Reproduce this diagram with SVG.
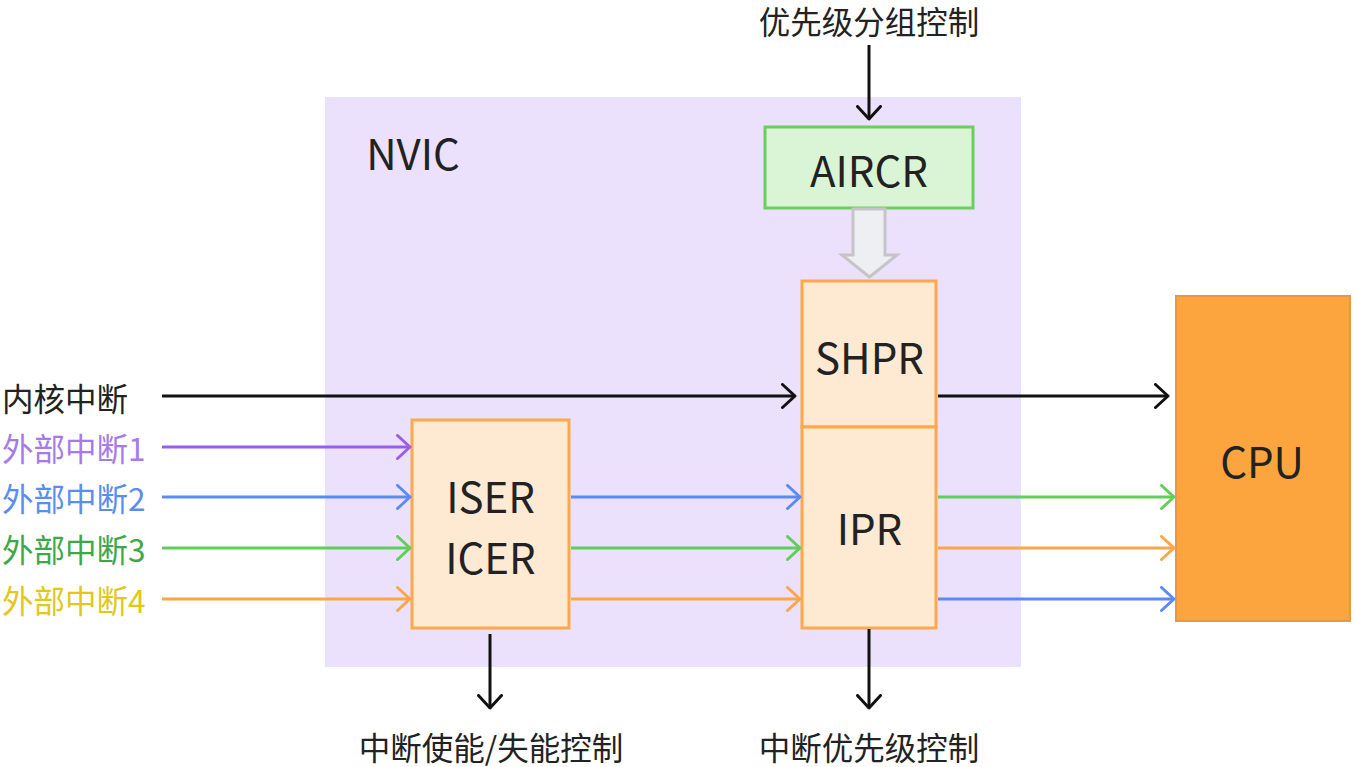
<svg xmlns="http://www.w3.org/2000/svg" width="1356" height="767" viewBox="0 0 1356 767">
<defs>
<style>
text{font-family:"Noto Sans CJK SC","Noto Sans",sans-serif;dominant-baseline:central;fill:#222}
.big{font-size:42px;text-anchor:middle}
.lbl{font-size:31.5px}
.reg{fill:#fee9d3;stroke:#fba94b;stroke-width:3}
.ln{fill:none;stroke-width:3}
</style>
<marker id="ak" viewBox="0 0 16 26" refX="14" refY="13" markerWidth="16" markerHeight="26" markerUnits="userSpaceOnUse" orient="auto"><path d="M1.5 1.5 L14 13 L1.5 24.5" fill="none" stroke="#111" stroke-width="3" stroke-linecap="round" stroke-linejoin="round"/></marker>
<marker id="ap" viewBox="0 0 16 26" refX="14" refY="13" markerWidth="16" markerHeight="26" markerUnits="userSpaceOnUse" orient="auto"><path d="M1.5 1.5 L14 13 L1.5 24.5" fill="none" stroke="#9b5de8" stroke-width="3" stroke-linecap="round" stroke-linejoin="round"/></marker>
<marker id="ab" viewBox="0 0 16 26" refX="14" refY="13" markerWidth="16" markerHeight="26" markerUnits="userSpaceOnUse" orient="auto"><path d="M1.5 1.5 L14 13 L1.5 24.5" fill="none" stroke="#5b8af5" stroke-width="3" stroke-linecap="round" stroke-linejoin="round"/></marker>
<marker id="ag" viewBox="0 0 16 26" refX="14" refY="13" markerWidth="16" markerHeight="26" markerUnits="userSpaceOnUse" orient="auto"><path d="M1.5 1.5 L14 13 L1.5 24.5" fill="none" stroke="#5fce5a" stroke-width="3" stroke-linecap="round" stroke-linejoin="round"/></marker>
<marker id="ao" viewBox="0 0 16 26" refX="14" refY="13" markerWidth="16" markerHeight="26" markerUnits="userSpaceOnUse" orient="auto"><path d="M1.5 1.5 L14 13 L1.5 24.5" fill="none" stroke="#fca549" stroke-width="3" stroke-linecap="round" stroke-linejoin="round"/></marker>
</defs>
<rect width="1356" height="767" fill="#fff"/>
<g id="nvic">
<rect x="325" y="97" width="696" height="570" fill="#ebe1fc"/>
<text class="big" x="413" y="151">NVIC</text>
</g>
<g id="aircr">
<rect x="765" y="127" width="208" height="81" fill="#daf5d5" stroke="#6dcc62" stroke-width="3"/>
<text class="big" x="869" y="168">AIRCR</text>
</g>
<g id="shpr">
<rect class="reg" x="802" y="281" width="134" height="146"/>
<text class="big" x="869.5" y="355">SHPR</text>
</g>
<g id="ipr">
<rect class="reg" x="802" y="427" width="134" height="201"/>
<text class="big" x="869.5" y="526">IPR</text>
</g>
<g id="iser">
<rect class="reg" x="412" y="420" width="157" height="208"/>
<text class="big" x="490.5" y="494">ISER</text>
<text class="big" x="490.5" y="555">ICER</text>
</g>
<g id="cpu">
<rect x="1176" y="296" width="174" height="325" fill="#fca43e" stroke="#e8974a" stroke-width="2"/>
<text class="big" x="1262" y="459">CPU</text>
</g>
<g id="labels">
<text class="lbl" x="2" y="397">内核中断</text>
<text class="lbl" x="2" y="447" style="fill:#a67be9">外部中断1</text>
<text class="lbl" x="2" y="497" style="fill:#5b8def">外部中断2</text>
<text class="lbl" x="2" y="548" style="fill:#3ea847">外部中断3</text>
<text class="lbl" x="2" y="599" style="fill:#e2c71c">外部中断4</text>
<text class="lbl" x="869" y="20" text-anchor="middle">优先级分组控制</text>
<text class="lbl" x="491" y="746" text-anchor="middle">中断使能/失能控制</text>
<text class="lbl" x="869" y="746" text-anchor="middle">中断优先级控制</text>
</g>
<g id="connectors">
<polygon points="853,209 885,209 885,255 897,255 869.5,277 842,255 853,255" fill="#eeeff3" stroke="#c5c5c9" stroke-width="3" stroke-linejoin="miter"/>
<line class="ln" x1="869" y1="45" x2="869" y2="119" stroke="#111" marker-end="url(#ak)"/>
<line class="ln" x1="162" y1="396" x2="795" y2="396" stroke="#111" marker-end="url(#ak)"/>
<line class="ln" x1="938" y1="396" x2="1168" y2="396" stroke="#111" marker-end="url(#ak)"/>
<line class="ln" x1="490" y1="634" x2="490" y2="708" stroke="#111" marker-end="url(#ak)"/>
<line class="ln" x1="869" y1="629" x2="869" y2="708" stroke="#111" marker-end="url(#ak)"/>
<line class="ln" x1="162" y1="447" x2="410" y2="447" stroke="#9b5de8" marker-end="url(#ap)"/>
<line class="ln" x1="162" y1="497" x2="410" y2="497" stroke="#5b8af5" marker-end="url(#ab)"/>
<line class="ln" x1="162" y1="548" x2="410" y2="548" stroke="#5fce5a" marker-end="url(#ag)"/>
<line class="ln" x1="162" y1="599" x2="410" y2="599" stroke="#fca549" marker-end="url(#ao)"/>
<line class="ln" x1="571" y1="497" x2="800" y2="497" stroke="#5b8af5" marker-end="url(#ab)"/>
<line class="ln" x1="571" y1="548" x2="800" y2="548" stroke="#5fce5a" marker-end="url(#ag)"/>
<line class="ln" x1="571" y1="599" x2="800" y2="599" stroke="#fca549" marker-end="url(#ao)"/>
<line class="ln" x1="938" y1="497" x2="1174" y2="497" stroke="#5fce5a" marker-end="url(#ag)"/>
<line class="ln" x1="938" y1="548" x2="1174" y2="548" stroke="#fca549" marker-end="url(#ao)"/>
<line class="ln" x1="938" y1="599" x2="1174" y2="599" stroke="#5b8af5" marker-end="url(#ab)"/>
</g>
</svg>
